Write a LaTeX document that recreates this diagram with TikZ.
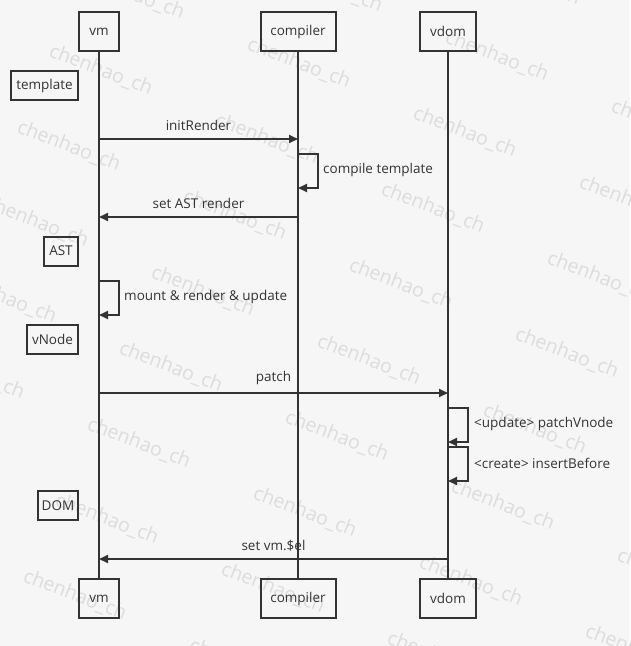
\documentclass[tikz,border=0pt]{standalone}
\usepackage{fontspec}
\setmainfont{Open Sans}
\usetikzlibrary{arrows.meta}
\definecolor{bg}{HTML}{F6F6F6}
\definecolor{ln}{HTML}{333333}
\definecolor{wm}{HTML}{DCDCDC}
\begin{document}
\begin{tikzpicture}[x=1pt,y=-1pt,
  actor/.style={draw=ln,line width=2pt,text=ln,minimum height=39pt,inner sep=0pt,font=\fontsize{13.5}{16}\selectfont},
  note/.style={draw=ln,line width=2pt,text=ln,minimum height=29pt,inner sep=0pt,anchor=east,font=\fontsize{13.5}{16}\selectfont},
  life/.style={draw=ln,line width=1.9pt},
  msg/.style={draw=ln,line width=1.9pt,-{Triangle[length=9pt,width=8pt]}},
  lbl/.style={text=ln,inner sep=0pt,font=\fontsize{13.5}{16}\selectfont},
  wmark/.style={text=wm,rotate=-21,inner sep=0pt,font=\fontsize{19.5}{22}\selectfont}]
\useasboundingbox[fill=bg] (0,0) rectangle (630,646);
\begin{scope}
\clip (0,0) rectangle (630,646);
\foreach \i/\j in {0/-1,1/-1,2/-1,3/-1,
                   0/0,1/0,2/0,3/0,
                   0/1,1/1,2/1,3/1,
                   0/2,1/2,2/2,3/2,
                   0/3,1/3,2/3,3/3,
                   1/4,2/4,3/4,4/4,0/4,
                   1/5,2/5,3/5,4/5,
                   1/6,2/6,3/6,4/6,
                   1/7,2/7,3/7,4/7,
                   1/8,2/8,3/8,4/8}{
    \node[wmark] at ({101+198*\i-32*\j},{70-7*\i+76*\j}) {chenhao\_ch};
}
\end{scope}
% actors
\node[actor,minimum width=40pt] (vmT) at (99,31.5) {vm};
\node[actor,minimum width=75pt] (coT) at (298,31.5) {compiler};
\node[actor,minimum width=56pt] (vdT) at (448,31.5) {vdom};
\node[actor,minimum width=40pt] (vmB) at (99,598.5) {vm};
\node[actor,minimum width=75pt] (coB) at (298,598.5) {compiler};
\node[actor,minimum width=56pt] (vdB) at (448,598.5) {vdom};
\draw[life] (vmT) -- (vmB);
\draw[life] (coT) -- (coB);
\draw[life] (vdT) -- (vdB);
% notes
\node[note,minimum width=67pt] (tpl) at (79,85.5) {template};
\node[note,minimum width=34pt] (ast) at (79,251) {AST};
\node[note,minimum width=51pt] (vnd) at (79,339.5) {vNode};
\node[note,minimum width=40pt] (dom) at (79,505.5) {DOM};
% message points
\coordinate (m1a) at (99,139);  \coordinate (m1b) at (298,139);
\coordinate (s1a) at (298,154); \coordinate (s1b) at (298,188);
\coordinate (m2a) at (298,217); \coordinate (m2b) at (99,217);
\coordinate (s2a) at (99,281);  \coordinate (s2b) at (99,315);
\coordinate (m3a) at (99,393);  \coordinate (m3b) at (448,393);
\coordinate (s3a) at (448,408); \coordinate (s3b) at (448,442);
\coordinate (s4a) at (448,447); \coordinate (s4b) at (448,481);
\coordinate (m4a) at (448,559); \coordinate (m4b) at (99,559);
% messages
\draw[msg] (m1a) -- node[lbl,midway,above=7pt] {initRender} (m1b);
\draw[msg] (s1a) -- ++(20,0) |- (s1b);
\node[lbl,anchor=west] at (323,170) {compile template};
\draw[msg] (m2a) -- node[lbl,midway,above=7pt] {set AST render} (m2b);
\draw[msg] (s2a) -- ++(20,0) |- (s2b);
\node[lbl,anchor=west] at (124,297) {mount \& render \& update};
\draw[msg] (m3a) -- node[lbl,midway,above=7pt] {patch} (m3b);
\draw[msg] (s3a) -- ++(20,0) |- (s3b);
\node[lbl,anchor=west] at (474,424) {<update> patchVnode};
\draw[msg] (s4a) -- ++(20,0) |- (s4b);
\node[lbl,anchor=west] at (474,463) {<create> insertBefore};
\draw[msg] (m4a) -- node[lbl,midway,above=7pt] {set vm.\$el} (m4b);
\end{tikzpicture}
\end{document}
